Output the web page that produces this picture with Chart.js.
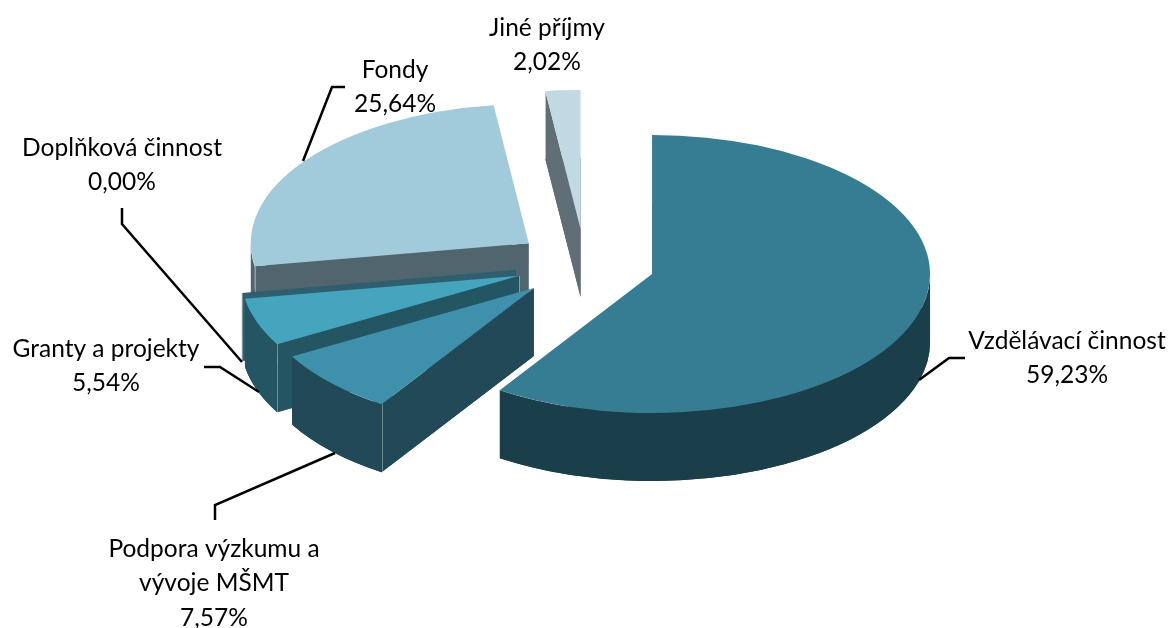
<!DOCTYPE html>
<html>
<head>
<meta charset="utf-8">
<title>Struktura příjmů</title>
<script src="https://cdn.jsdelivr.net/npm/chart.js@4"></script>
<style>
  html, body { margin: 0; padding: 0; background: #fff; }
  #box { width: 1170px; height: 628px; }
</style>
</head>
<body>
<div id="box"><canvas id="myChart" width="1170" height="628"></canvas></div>
<script>
// data
const categories = ['Vzdělávací činnost', 'Podpora výzkumu a vývoje MŠMT', 'Granty a projekty', 'Doplňková činnost', 'Fondy', 'Jiné příjmy'];
const shares = [59.23, 7.57, 5.54, 0.00, 25.64, 2.02];

// colours of the top and of the sides of each slice
const topColors = ['#367d94', '#3f91ab', '#45a5bf', '#2f5f6e', '#a1cada', '#c0d9e3'];
const sideColors = ['#1b3f4a', '#214957', '#245562', '#2f5f6e', '#50656e', '#606f76'];

// labels were placed by hand in the original
const labelLines = [
  ['Vzdělávací činnost'],
  ['Podpora výzkumu a', 'vývoje MŠMT'],
  ['Granty a projekty'],
  ['Doplňková činnost'],
  ['Fondy'],
  ['Jiné příjmy']
];
const labelX = [1067, 214, 106, 122, 395, 547];
const labelY = [341, 549, 349, 148, 70, 28];
const leaders = [
  [[919, 380], [949, 358], [965, 358]],
  [[335, 453], [215, 505], [215, 520]],
  [[204, 367], [220, 367], [259, 392]],
  [[122, 208], [122, 224], [242, 362]],
  [[345, 87], [332, 87], [303, 161]],
  []
];

const radius = 278;    // pie radius
const tilt = 0.5;      // how much the circle gets squashed
const depth = 68;      // height of the slices
const explode = 70;    // how far each slice is pulled out
const centerY = 264;
const lineGap = 34.5;
const drawOrder = [5, 4, 3, 2, 1, 0]; // back to front

function placeArc(ctx, arc, drop) {
  const mid = (arc.startAngle + arc.endAngle) / 2;
  ctx.translate(arc.x, centerY + drop);
  ctx.scale(1, tilt);
  ctx.translate(Math.cos(mid) * explode, Math.sin(mid) * explode);
  ctx.translate(-arc.x, -arc.y);
}

// where the slice's tip ends up on the page
function tipPoint(arc) {
  const mid = (arc.startAngle + arc.endAngle) / 2;
  return {
    x: arc.x + Math.cos(mid) * explode,
    y: centerY + Math.sin(mid) * explode * tilt
  };
}

function rimPoint(arc, angle) {
  const tip = tipPoint(arc);
  return {
    x: tip.x + Math.cos(angle) * arc.outerRadius,
    y: tip.y + Math.sin(angle) * arc.outerRadius * tilt
  };
}

function fillFace(ctx, a, b) {
  ctx.beginPath();
  ctx.moveTo(a.x, a.y);
  ctx.lineTo(b.x, b.y);
  ctx.lineTo(b.x, b.y + depth);
  ctx.lineTo(a.x, a.y + depth);
  ctx.closePath();
  ctx.fill();
}

// only the part of the rim that faces the viewer
function fillRim(ctx, arc) {
  const tip = tipPoint(arc);
  const r = arc.outerRadius;
  const from = Math.max(arc.startAngle, 0);
  const to = Math.min(arc.endAngle, Math.PI);
  if (to <= from) return;
  ctx.beginPath();
  ctx.ellipse(tip.x, tip.y, r, r * tilt, 0, from, to);
  ctx.ellipse(tip.x, tip.y + depth, r, r * tilt, 0, to, from, true);
  ctx.closePath();
  ctx.fill();
}

function drawSeam(ctx, p) {
  ctx.strokeStyle = 'rgba(255,255,255,0.35)';
  ctx.lineWidth = 1;
  ctx.beginPath();
  ctx.moveTo(Math.round(p.x) + 0.5, p.y);
  ctx.lineTo(Math.round(p.x) + 0.5, p.y + depth);
  ctx.stroke();
}

const pie3d = {
  id: 'pie3d',
  beforeDatasetDraw(chart) {
    const ctx = chart.ctx;
    const arcs = chart.getDatasetMeta(0).data;
    drawOrder.forEach(function (i) {
      const arc = arcs[i];
      const tip = tipPoint(arc);
      const rimA = rimPoint(arc, arc.startAngle);
      const rimB = rimPoint(arc, arc.endAngle);
      const startFaceShows = Math.cos(arc.startAngle) < -0.001;
      const endFaceShows = Math.cos(arc.endAngle) > 0.001;
      ctx.fillStyle = sideColors[i];
      if (arc.circumference === 0) {
        // empty slice, only its cut face can be seen
        fillFace(ctx, tip, rimA);
        drawSeam(ctx, rimA);
        return;
      }
      const side = Object.create(arc);
      side.options = Object.assign({}, arc.options, { backgroundColor: sideColors[i] });
      ctx.save();
      placeArc(ctx, side, depth);
      side.draw(ctx);
      ctx.restore();
      ctx.fillStyle = sideColors[i];
      if (startFaceShows) fillFace(ctx, tip, rimA);
      if (endFaceShows) fillFace(ctx, tip, rimB);
      fillRim(ctx, arc);
      if (startFaceShows) {
        drawSeam(ctx, rimA);
        drawSeam(ctx, tip);
      }
      ctx.save();
      placeArc(ctx, arc, 0);
      arc.draw(ctx);
      ctx.restore();
    });
    return false; // the slices are done already
  },
  afterDraw(chart) {
    const ctx = chart.ctx;
    ctx.save();
    ctx.strokeStyle = '#000';
    ctx.lineWidth = 2.5;
    ctx.lineJoin = 'miter';
    leaders.forEach(function (pts) {
      if (!pts.length) return;
      ctx.beginPath();
      pts.forEach(function (p, n) {
        if (n === 0) ctx.moveTo(p[0], p[1]); else ctx.lineTo(p[0], p[1]);
      });
      ctx.stroke();
    });
    ctx.fillStyle = '#000';
    ctx.font = '24.5px Lato';
    ctx.textAlign = 'center';
    ctx.textBaseline = 'middle';
    categories.forEach(function (c, i) {
      const lines = labelLines[i].concat(shares[i].toFixed(2).replace('.', ',') + '%');
      lines.forEach(function (t, n) {
        ctx.fillText(t, labelX[i], labelY[i] + n * lineGap);
      });
    });
    ctx.restore();
  }
};

new Chart(document.getElementById('myChart').getContext('2d'), {
  type: 'pie',
  data: {
    labels: categories,
    datasets: [{
      data: shares,
      backgroundColor: topColors,
      borderWidth: 0,
      hoverOffset: 0
    }]
  },
  options: {
    responsive: false,
    animation: false,
    radius: radius,
    plugins: {
      legend: { display: false },
      tooltip: { enabled: false }
    }
  },
  plugins: [pie3d]
});
</script>
</body>
</html>
